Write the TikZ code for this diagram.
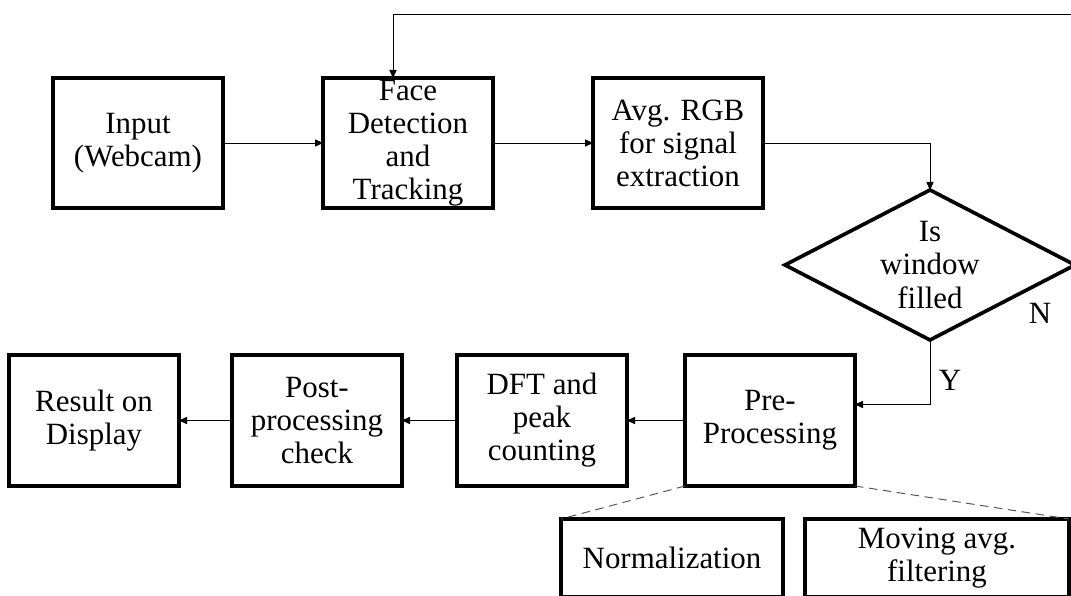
\documentclass[tikz,border=0pt]{standalone}
\usepackage{fontspec}
\setmainfont{Liberation Serif}
\usetikzlibrary{arrows.meta,positioning,shapes.geometric}
\definecolor{dashgray}{HTML}{555555}

\begin{document}
\begin{tikzpicture}[
  node distance=2.5cm,
  every node/.style={font=\fontsize{22}{23.5}\selectfont},
  stepbox/.style={
    draw=black, line width=2.6pt, align=center,
    minimum width=4.25cm, minimum height=3.25cm, inner sep=0pt, outer sep=0pt
  },
  subbox/.style={
    draw=black, line width=2.6pt, align=center,
    minimum height=1.95cm, inner sep=0pt, outer sep=0pt
  },
  decision/.style={
    draw=black, line width=2.6pt, shape=diamond, inner sep=0pt, outer sep=0pt,
    minimum width=7.25cm, minimum height=3.75cm
  },
  arr/.style={-{Triangle[length=2mm,width=1.8mm]}, line width=0.6pt},
  dashline/.style={dash pattern=on 6pt off 4pt, line width=0.7pt, draw=dashgray}
]
  \useasboundingbox (0,0) rectangle (26.775,14.9);
  \clip (0,0) rectangle (26.775,14.9);

  % top row
  \node[stepbox] (input) at (3.45,11.325) {Input\\(Webcam)};
  \node[stepbox, right=of input] (face) {Face\\Detection\\and\\Tracking};
  \node[stepbox, right=of face] (avg) {Avg. RGB\\for signal\\extraction};
  \node[decision, label={[align=center]center:Is\\window\\filled}] (dia) at (23.25,8.275) {};

  % bottom row
  \node[stepbox, minimum height=3.275cm] (pre) at (19.25,4.3875) {Pre-\\Processing};
  \node[stepbox, minimum height=3.275cm, left=1.45cm of pre] (dft) {DFT and\\peak\\counting};
  \node[stepbox, minimum height=3.275cm, left=1.375cm of dft] (post) {Post-\\processing\\check};
  \node[stepbox, minimum height=3.275cm, left=1.325cm of post] (result) {Result on\\Display};

  % pre-processing steps
  \node[subbox, minimum width=5.55cm] (norm) at (16.8,0.95) {Normalization};
  \node[subbox, minimum width=6.6cm] (mov) at (23.425,0.95) {Moving avg.\\filtering};

  \node (nlabel) at (26.0,7.075) {N};
  \node (ylabel) at (23.75,5.4) {Y};
  \coordinate (back) at (26.775,14.55);

  \draw[arr] (input) -- (face);
  \draw[arr] (face) -- (avg);
  \draw[arr] (avg.east) -| (dia.north);
  \draw[arr] (dia.south) |- ([yshift=4mm]pre.east);
  \draw[arr] (back) -| ([xshift=-3.75mm]face.north);
  \draw[arr] (pre) -- (dft);
  \draw[arr] (dft) -- (post);
  \draw[arr] (post) -- (result);

  \draw[dashline] (pre.south west) -- (norm.north west);
  \draw[dashline] (pre.south east) -- (mov.north east);
\end{tikzpicture}
\end{document}
